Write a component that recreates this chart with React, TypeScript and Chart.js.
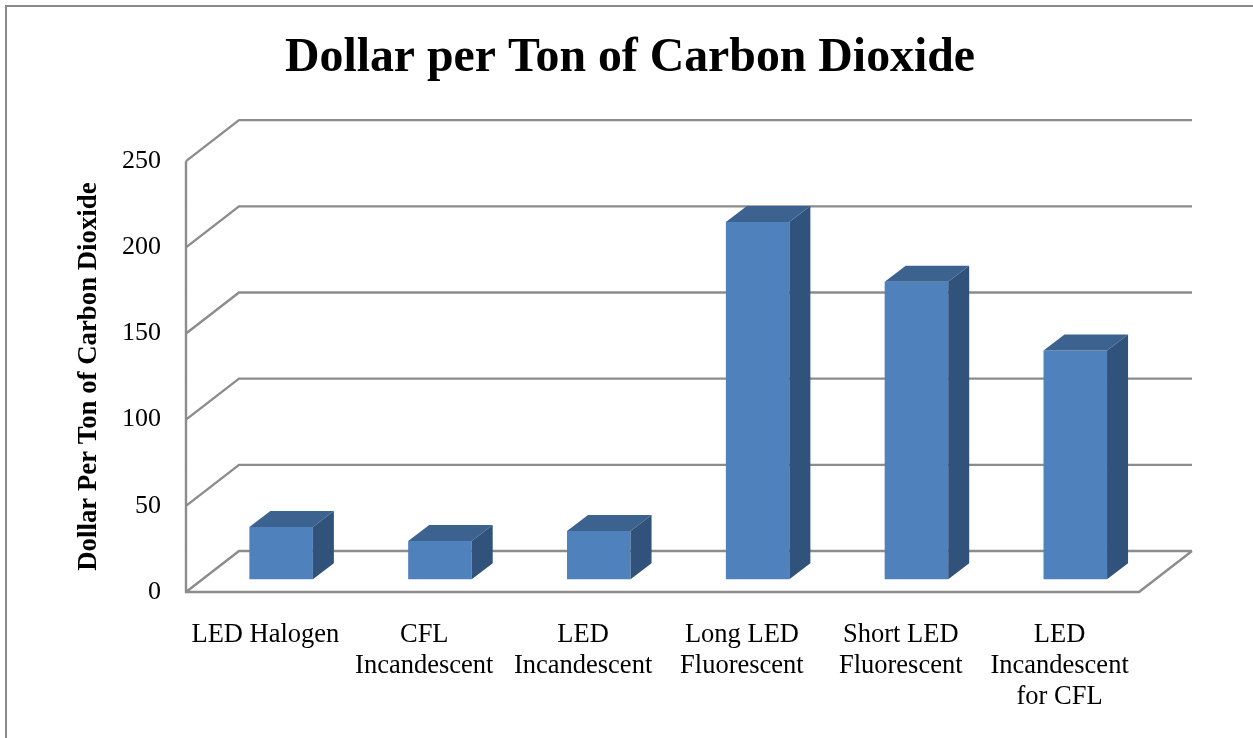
import { useEffect, useRef } from "react";
import { Chart, registerables } from "chart.js";

Chart.register(...registerables);

const chartTitle = "Dollar per Ton of Carbon Dioxide";
const axisTitle = "Dollar Per Ton of Carbon Dioxide";
const categories = [
  ["LED Halogen"],
  ["CFL", "Incandescent"],
  ["LED", "Incandescent"],
  ["Long LED", "Fluorescent"],
  ["Short LED", "Fluorescent"],
  ["LED", "Incandescent", "for CFL"],
];
const dollarPerTon = [30.4, 22.2, 28, 207.4, 172.6, 132.7];

const SERIF = "'Liberation Serif', 'Times New Roman', serif";
const GRID = "#8c8c8c";
const FRONT = "#4f81bd";
const TOP = "#3c6290";
const SIDE = "#31537b";

// Depth of the floor, and where the bars stand inside it.
const WALL_DX = 53;
const WALL_DY = -41;
const BAR_SHIFT_X = 15.7;
const BAR_SHIFT_Y = -12.7;
const BAR_DX = 21;
const BAR_DY = -16;

const poly = (ctx: CanvasRenderingContext2D, pts: number[][], fill: string) => {
  ctx.beginPath();
  pts.forEach(([x, y], i) => (i ? ctx.lineTo(x, y) : ctx.moveTo(x, y)));
  ctx.closePath();
  ctx.fillStyle = fill;
  ctx.fill();
};

// Walls and floor of the box, placed from the value axis ticks.
const wallsPlugin = {
  id: "walls",
  beforeDatasetsDraw(chart: any) {
    const { ctx, chartArea, scales } = chart;
    const { left, right, bottom, top } = chartArea;
    ctx.save();
    ctx.strokeStyle = GRID;
    ctx.lineWidth = 2.4;
    ctx.lineJoin = "miter";
    ctx.beginPath();
    scales.y.ticks.forEach((t: any) => {
      const y = scales.y.getPixelForValue(t.value);
      ctx.moveTo(left, y);
      ctx.lineTo(left + WALL_DX, y + WALL_DY);
      ctx.lineTo(right + WALL_DX, y + WALL_DY);
    });
    ctx.moveTo(left, top);
    ctx.lineTo(left, bottom);
    ctx.lineTo(right, bottom);
    ctx.lineTo(right + WALL_DX, bottom + WALL_DY);
    ctx.stroke();
    ctx.restore();
  },
};

// Moves the bars back into the floor and adds their top and side faces.
const bars3dPlugin = {
  id: "bars3d",
  beforeDatasetDraw(chart: any) {
    const { ctx } = chart;
    ctx.save();
    ctx.translate(BAR_SHIFT_X, BAR_SHIFT_Y);
  },
  afterDatasetDraw(chart: any, args: any) {
    const { ctx } = chart;
    args.meta.data.forEach((bar: any) => {
      const l = bar.x - bar.width / 2;
      const r = bar.x + bar.width / 2;
      const t = bar.y;
      const b = bar.base;
      poly(ctx, [[l, t], [r, t], [r + BAR_DX, t + BAR_DY], [l + BAR_DX, t + BAR_DY]], TOP);
      poly(ctx, [[r, t], [r + BAR_DX, t + BAR_DY], [r + BAR_DX, b + BAR_DY], [r, b]], SIDE);
    });
    ctx.restore();
  },
};

export default function App() {
  const ref = useRef<HTMLCanvasElement>(null);

  useEffect(() => {
    document.body.style.margin = "0";
    const chart = new Chart(ref.current!, {
      type: "bar",
      data: {
        labels: categories,
        datasets: [
          {
            data: dollarPerTon,
            backgroundColor: FRONT,
            categoryPercentage: 1,
            barPercentage: 0.4,
            clip: false,
          } as any,
        ],
      },
      options: {
        animation: false,
        responsive: false,
        plugins: {
          legend: { display: false },
          tooltip: { enabled: false },
          title: {
            display: true,
            text: chartTitle,
            color: "#000",
            font: { family: SERIF, size: 47.8, weight: "bold", lineHeight: 1.2 },
            padding: { top: 22.5, bottom: 74.3 },
          },
        },
        scales: {
          x: {
            grid: { display: false },
            border: { display: false },
            afterFit(scale: any) {
              scale.height = 146;
            },
            ticks: {
              autoSkip: false,
              maxRotation: 0,
              minRotation: 0,
              padding: 20,
              color: "#000",
              font: { family: SERIF, size: 26.5, lineHeight: 1.17 },
            },
          },
          y: {
            min: 0,
            max: 250,
            grid: { display: false },
            border: { display: false },
            afterFit(scale: any) {
              scale.width = 179;
            },
            title: {
              display: true,
              text: axisTitle,
              color: "#000",
              font: { family: SERIF, size: 26.8, weight: "bold", lineHeight: 1.2 },
              padding: { top: 66, bottom: 0 },
            },
            ticks: {
              stepSize: 50,
              padding: 17,
              color: "#000",
              font: { family: SERIF, size: 26 },
            },
          },
          // Empty axis that reserves the margin right of the front floor edge.
          rightMargin: {
            axis: "y",
            type: "linear",
            position: "right",
            grid: { display: false },
            border: { display: false },
            ticks: { display: false },
            afterFit(scale: any) {
              scale.width = 114;
            },
          },
        },
      },
      plugins: [wallsPlugin, bars3dPlugin],
    } as any);
    return () => chart.destroy();
  }, []);

  return (
    <div
      style={{
        position: "absolute",
        left: 5,
        top: 5,
        width: 1248,
        height: 733,
        borderLeft: "2px solid #8a8a8a",
        borderTop: "2px solid #8a8a8a",
        boxSizing: "border-box",
        background: "#fff",
      }}
    >
      <canvas ref={ref} width={1246} height={731} style={{ display: "block" }} />
    </div>
  );
}
